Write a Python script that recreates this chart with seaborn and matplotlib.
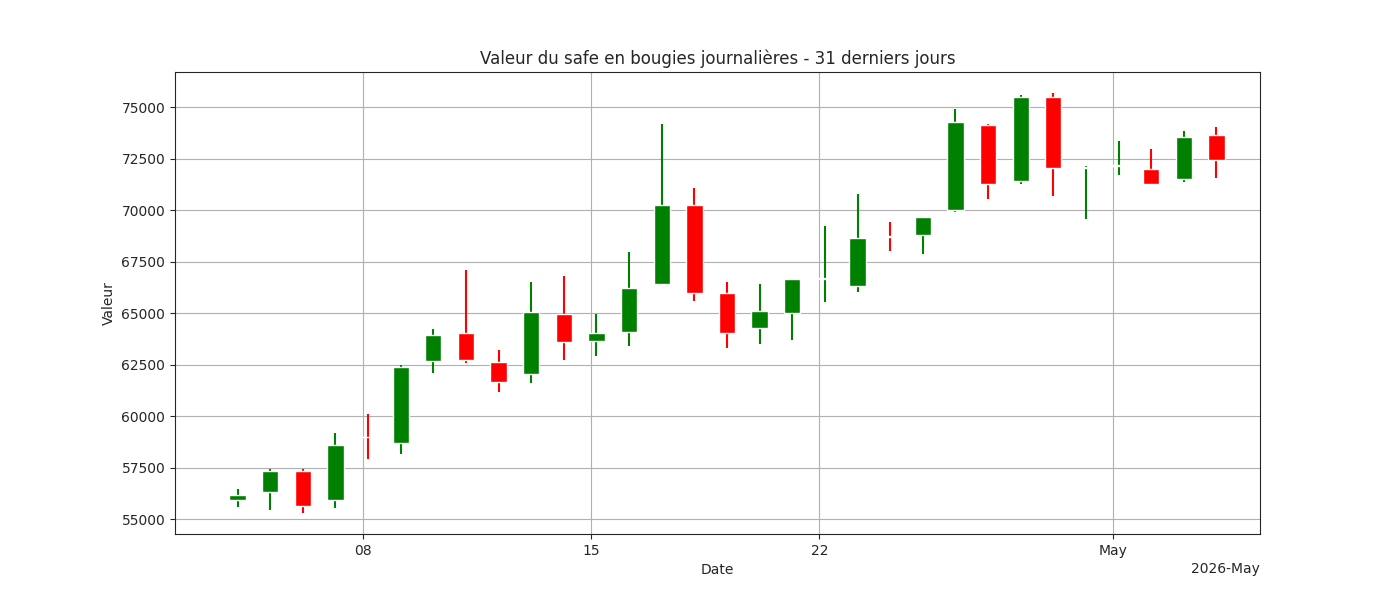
import numpy as np
import pandas as pd
import matplotlib
matplotlib.use("Agg")
import matplotlib.pyplot as plt
import matplotlib.dates as mdates
import seaborn as sns

sns.set_style("ticks")
plt.rcParams['font.family'] = ['DejaVu Sans']

dates = pd.date_range("2026-04-04 04:00", periods=31, freq="D")
opens = [55950, 56300, 57350, 55950, 59000, 58700, 62700, 64050, 62650, 62050,
         64950, 63650, 64100, 66400, 70250, 66000, 64300, 65000, 66650, 66350,
         68750, 68800, 70000, 74150, 71450, 75500, 72050, 72150, 72000, 71500, 73650]
highs = [56450, 57450, 57450, 59200, 60100, 62500, 64250, 67100, 63200, 66500,
         66800, 64950, 68000, 74200, 71100, 66500, 66400, 66650, 69250, 70800,
         69450, 69700, 74900, 74200, 75600, 75700, 72150, 73350, 73000, 73850, 74050]
lows = [55600, 55450, 55300, 55550, 57900, 58150, 62100, 62600, 61200, 61600,
        62750, 62950, 63400, 66400, 65600, 63300, 63500, 63700, 65550, 66050,
        68050, 67900, 69900, 70550, 71300, 70700, 69600, 71700, 71250, 71400, 71550]
closes = [56150, 57350, 55650, 58600, 58990, 62400, 63950, 62750, 61650, 65050,
          63600, 64050, 66250, 70250, 66000, 64050, 65100, 66650, 66700, 68650,
          68700, 69700, 74300, 71300, 75500, 72050, 72100, 72200, 71300, 73550, 72450]

df = pd.DataFrame({"date": dates, "open": opens, "high": highs, "low": lows, "close": closes})
df["color"] = np.where(df["close"] >= df["open"], "green", "red")

fig, ax = plt.subplots(figsize=(14, 6), dpi=100)
ax.vlines(df["date"], df["low"], df["high"], colors=df["color"], linewidth=1.5, zorder=2)
bottom = df[["open", "close"]].min(axis=1)
height = (df["close"] - df["open"]).abs()
ax.bar(df["date"], height, bottom=bottom, width=0.5, color=df["color"], zorder=3)

locator = mdates.DayLocator(bymonthday=[1, 8, 15, 22])
ax.xaxis.set_major_locator(locator)
ax.xaxis.set_major_formatter(mdates.ConciseDateFormatter(locator))
ax.set_xlim(pd.Timestamp("2026-04-02 06:00"), pd.Timestamp("2026-05-05 12:00"))
ax.ticklabel_format(axis="y", style="plain", useOffset=False)
ax.grid(True, color="#b0b0b0", linewidth=0.8, zorder=0)
ax.set_axisbelow(True)
ax.set_title("Valeur du safe en bougies journalières - 31 derniers jours")
ax.set_xlabel("Date")
ax.set_ylabel("Valeur")
plt.subplots_adjust(left=0.125, right=0.9, top=0.88, bottom=0.11)
plt.savefig("out.png", dpi=100)
